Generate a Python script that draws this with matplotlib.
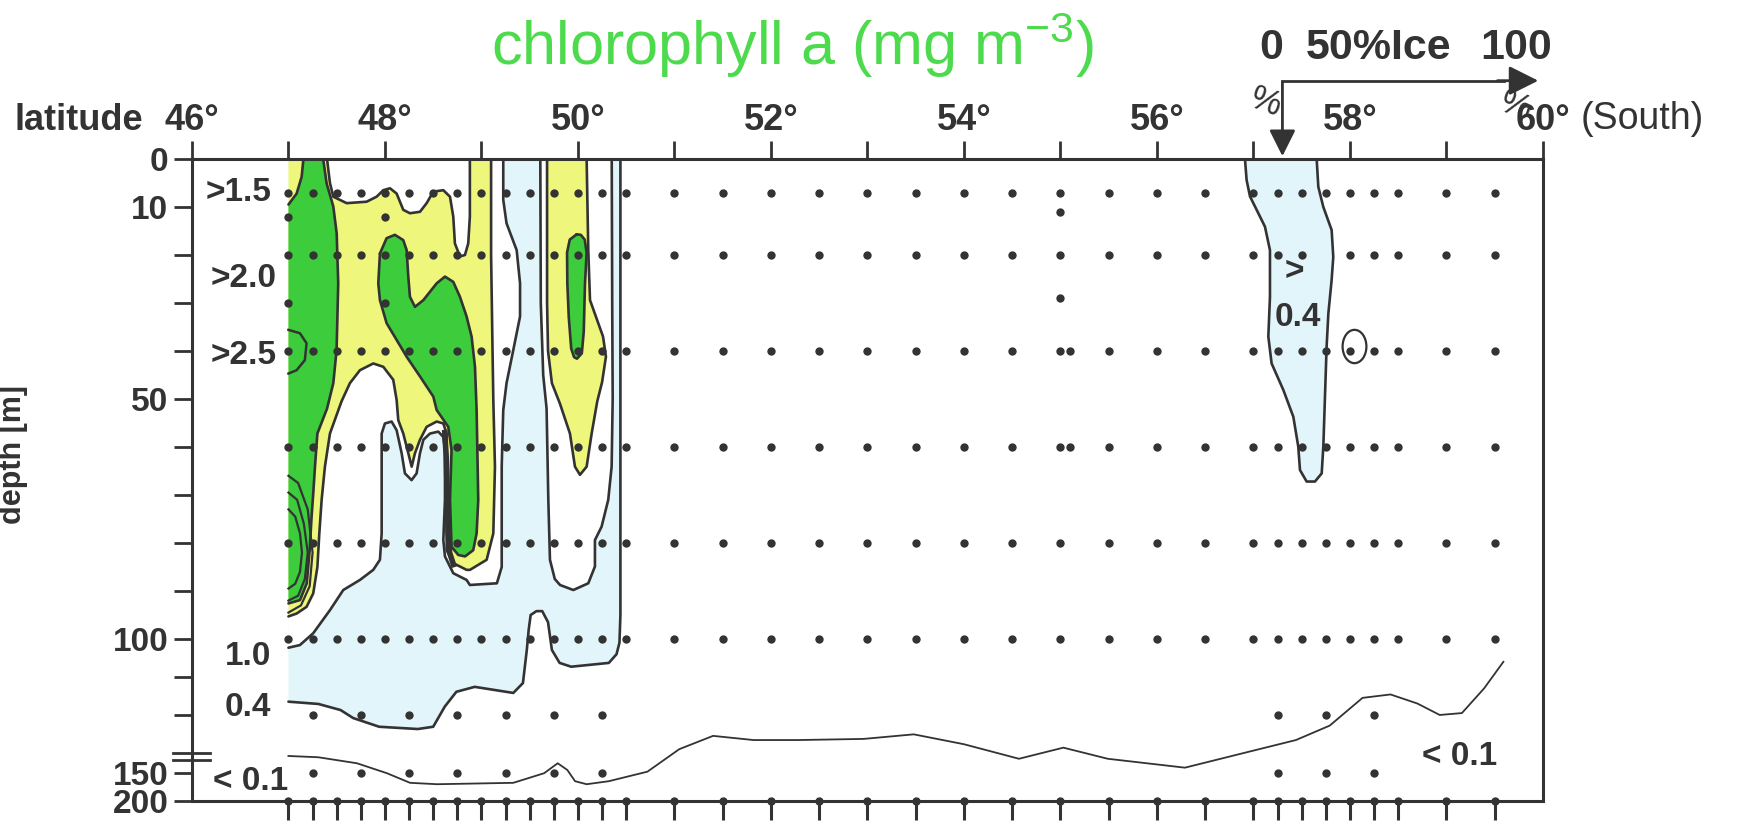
import numpy as np
import matplotlib.pyplot as plt
from matplotlib.path import Path

plt.rcParams['font.family'] = ['Liberation Sans', 'DejaVu Sans']
plt.rcParams['mathtext.default'] = 'regular'

INK = '#333333'
GREEN = '#3ccc3c'
YELLOW = '#eef77c'
BLUE = '#e2f5fa'
TITLE_GREEN = '#4ddb4d'

# ---- station grid (deg South) and sample depths (m)
stations = [47.0, 47.25, 47.5, 47.75, 48.0, 48.25, 48.5, 48.75, 49.0, 49.25, 49.5, 49.75,
            50.0, 50.25, 50.5, 51.0, 51.5, 52.0, 52.5, 53.0, 53.5, 54.0, 54.5, 55.0, 55.5,
            56.0, 56.5, 57.0, 57.25, 57.5, 57.75, 58.0, 58.25, 58.5, 59.0, 59.5]
rows = [7, 20, 40, 60, 80, 100]
skipped = [(57.75, 20)]
deep_stations = [47.25, 47.75, 48.25, 48.75, 49.25, 49.75, 50.25, 57.25, 57.75, 58.25]
deep_rows = [120, 150]
extra_lat = [47.0, 47.0, 48.0, 48.0, 55.0, 55.0, 55.1, 55.1]
extra_dep = [12, 30, 12, 30, 11, 29, 40, 60]

# ---- contours read off the section (lat, depth)
# 0.4 contour (light blue inside)
blue_lat = [47.0, 50.44, 50.44, 50.43, 50.4, 50.32, 49.93, 49.81, 49.73, 49.69, 49.63, 49.57,
            49.51, 49.49, 49.47, 49.43, 49.33, 48.93, 48.74, 48.62, 48.5, 48.34, 47.94, 47.67,
            47.54, 47.31, 47.0]
blue_dep = [0, 0, 95, 101, 104, 106.3, 107.3, 106.3, 102.9, 96.5, 94.2, 94.2, 95, 98, 102.9,
            111.6, 114.2, 112.6, 113.9, 117.8, 123.1, 123.7, 123.1, 120.8, 118.7, 117.1, 116.5]

# 1.0 contours (white inside)
wl_lat = [47.0, 49.226, 49.226, 49.26, 49.365, 49.4, 49.4, 49.33, 49.26, 49.226, 49.21, 49.21,
          49.16, 48.88, 48.846, 48.708, 48.622, 48.605, 48.622, 48.622, 48.605, 48.553, 48.467,
          48.398, 48.363, 48.328, 48.276, 48.207, 48.173, 48.121, 48.069, 48.0, 47.966, 47.966,
          47.966, 47.948, 47.879, 47.741, 47.568, 47.43, 47.257, 47.119, 47.0]
wl_dep = [0, 0, 8.5, 13.4, 19, 25.9, 32.8, 39.8, 46.7, 52.3, 64, 85, 88.4, 88.75, 87.7, 86.3,
          82.8, 79.4, 71, 60.6, 57.9, 56.8, 57.2, 58.5, 61.3, 65.5, 66.9, 65.5, 61.3, 56.5, 54.7,
          55.1, 57.2, 64.1, 78, 83.5, 85.6, 87.7, 89.8, 94, 98.8, 101.6, 102.3]
wr_lat = [49.61, 49.615, 49.64, 49.675, 49.693, 49.71, 49.76, 49.814, 49.952, 50.107, 50.176,
          50.176, 50.245, 50.314, 50.349, 50.36, 50.355, 50.35]
wr_dep = [0, 30, 45, 52, 71, 83.5, 87.5, 88.75, 89.8, 88.4, 84.9, 79.4, 76.6, 71, 64.1, 50, 30, 0]

# 1.5 contours (yellow inside)
yl_lat = [47.0, 47.4, 47.43, 47.465, 47.603, 47.81, 47.914, 47.983, 48.052, 48.121, 48.19,
          48.259, 48.363, 48.432, 48.501, 48.605, 48.674, 48.708, 48.725, 48.777, 48.829, 48.863,
          48.88, 48.88, 49.1, 49.1, 49.115, 49.123, 49.14, 49.123, 49.054, 48.881, 48.846,
          48.708, 48.64, 48.639, 48.605, 48.536, 48.432, 48.363, 48.311, 48.277, 48.242, 48.19,
          48.138, 48.121, 48.086, 47.983, 47.879, 47.741, 47.637, 47.55, 47.43, 47.378, 47.344,
          47.32, 47.3, 47.257, 47.188, 47.085, 47.0]
yl_dep = [0, 0, 5, 7.85, 9.2, 8.9, 7.85, 6.5, 6.1, 7.2, 10.6, 11.3, 11, 9.2, 6.8, 6.5, 7.85, 12,
          17.6, 20.3, 20, 17.6, 12, 0, 0, 20, 40, 50.2, 64.1, 78, 83.5, 85.6, 85.6, 84.2, 81.5,
          57.2, 55.1, 54.7, 55.8, 58.5, 61.3, 64.1, 61.3, 57.2, 54.4, 50.2, 46, 43.3, 42.6, 44,
          46.7, 50.5, 57.2, 64.1, 71, 78, 85, 90.5, 93.3, 94.7, 95.3]
yt_lat = [49.68, 49.68, 49.69, 49.73, 49.814, 49.917, 49.969, 50.021, 50.09, 50.142, 50.2,
          50.25, 50.29, 50.26, 50.125, 50.107, 50.09]
yt_dep = [0, 30, 40, 46.7, 51, 57.2, 64.1, 65.8, 64.1, 57.2, 50.5, 46.5, 41.2, 37, 29.4, 19, 0]

# 2.0 contours (green inside)
gl_lat = [47.0, 47.085, 47.137, 47.155, 47.36, 47.396, 47.465, 47.5, 47.516, 47.499, 47.465,
          47.4, 47.3, 47.275, 47.257, 47.24, 47.22, 47.19, 47.12, 47.0]
gl_dep = [9.5, 7.2, 3.7, 0, 0, 5.1, 9.9, 15.5, 25.9, 39.8, 46.7, 52, 57.2, 64.1, 69.7, 74.5,
          81.5, 88.4, 91.9, 92.6]
gm_lat = [47.948, 48.017, 48.103, 48.19, 48.225, 48.242, 48.259, 48.311, 48.398, 48.536, 48.622,
          48.708, 48.777, 48.846, 48.898, 48.933, 48.95, 48.967, 48.95, 48.915, 48.83, 48.76,
          48.69, 48.674, 48.69, 48.656, 48.536, 48.501, 48.363, 48.225, 48.121, 48.017, 47.948,
          47.931]
gm_dep = [19.7, 16.5, 15.8, 16.9, 19, 24.5, 28.7, 30.8, 29.4, 25.9, 24.5, 25.6, 28.7, 32.8, 37,
          43.3, 52.3, 71, 78, 81.5, 82.8, 82.5, 80.8, 71, 60.6, 55.8, 52.3, 49.5, 45.3, 41.2,
          37.7, 34.2, 29.4, 25.9]
gr_lat = [49.986, 50.03, 50.07, 50.09, 50.073, 50.06, 50.04, 49.99, 49.96, 49.93, 49.905, 49.89,
          49.887, 49.915]
gr_dep = [15.7, 15.8, 16.8, 19.5, 26, 36, 40.5, 41.6, 41.3, 39.5, 33, 26, 19.5, 16.8]

# 2.5 contour and crowded contours near 47.1 S and 48.65 S
c25_lat = [47.0, 47.119, 47.188, 47.17, 47.085, 47.0]
c25_dep = [35.6, 36.3, 38.4, 41.9, 44.0, 44.7]
arcs_lat = [[47.0, 47.1, 47.2, 47.25, 47.22, 47.13, 47.0],
            [47.0, 47.09, 47.16, 47.2, 47.17, 47.1, 47.0],
            [47.0, 47.07, 47.12, 47.14, 47.12, 47.07, 47.0]]
arcs_dep = [[66, 67.5, 73, 82, 89, 93, 94.5],
            [69.5, 71, 76, 82, 87.5, 91, 92],
            [73, 74.5, 78, 82, 86, 88.5, 89.5]]
band_lat = [48.62, 48.635, 48.645, 48.655, 48.67, 48.71]
band_dep = [57, 62, 70, 78, 82, 84.5]

# 0.4 patch under the ice edge
ice_lat = [56.912, 56.929, 56.964, 57.033, 57.119, 57.171, 57.171, 57.154, 57.188, 57.309,
           57.413, 57.464, 57.482, 57.551, 57.637, 57.707, 57.724, 57.741, 57.758, 57.776,
           57.81, 57.827, 57.81, 57.724, 57.672, 57.655]
ice_dep = [0, 4.4, 7.8, 10.6, 14.1, 19, 28.7, 37, 42.6, 48.1, 53.7, 59.9, 64.8, 67.2, 67.2,
           65.5, 59.9, 49.5, 39.1, 32.2, 25.2, 20.4, 14.8, 10, 5.8, 0]

# 0.1 contour
low_lat = [47.0, 47.31, 47.71, 48.02, 48.26, 48.54, 49.33, 49.65, 49.79, 49.89, 49.97, 50.09,
           50.32, 50.72, 51.05, 51.4, 51.82, 52.28, 52.96, 53.48, 54.0, 54.57, 55.03, 55.49,
           56.29, 56.98, 57.44, 57.79, 58.13, 58.42, 58.7, 58.93, 59.16, 59.39, 59.59]
low_dep = [133, 134.3, 140.3, 150.4, 167.6, 170.1, 167.6, 150.4, 140.3, 147, 164.7, 170.1,
           164.7, 148.7, 129, 125.5, 126.6, 126.6, 126.3, 125.1, 127.7, 135.8, 128.6, 135.8,
           144.7, 129.5, 126.6, 122.8, 115.5, 114.6, 117, 120, 119.5, 113, 106]

# ---- figure
fig = plt.figure(figsize=(17.37, 8.32), dpi=100)
ax = fig.add_axes([0.1105, 0.0373, 0.7778, 0.7716])

# broken depth axis: 0-100 m stretched, 150-200 m squeezed
d_knots = [-200, 0, 100, 130, 150, 200, 400]
p_knots = [-960, 0, 480, 594, 614, 642, 778]
ax.set_yscale('function', functions=(lambda d: np.interp(d, d_knots, p_knots),
                                     lambda p: np.interp(p, p_knots, d_knots)))
ax.set_xlim(46, 60)
ax.set_ylim(200, 0)


def shade(lat, dep, color, z, closed=False):
    ax.fill(lat, dep, color=color, lw=0, zorder=z)
    if closed:
        lat = lat + lat[:1]
        dep = dep + dep[:1]
    ax.plot(lat, dep, color=INK, lw=1.9, zorder=z + 0.5, solid_joinstyle='round',
            solid_capstyle='round')


shade(blue_lat, blue_dep, BLUE, 1)
shade(ice_lat, ice_dep, BLUE, 1)
shade(wl_lat, wl_dep, 'white', 2)
shade(wr_lat, wr_dep, 'white', 2)
shade(yl_lat, yl_dep, YELLOW, 3)
shade(yt_lat, yt_dep, YELLOW, 3)
shade(gl_lat, gl_dep, GREEN, 4)
shade(gm_lat, gm_dep, GREEN, 4, closed=True)
shade(gr_lat, gr_dep, GREEN, 4, closed=True)
ax.plot(c25_lat, c25_dep, color=INK, lw=1.8, zorder=5)
for a_lat, a_dep in zip(arcs_lat, arcs_dep):
    ax.plot(a_lat, a_dep, color=INK, lw=1.6, zorder=5)
ax.plot(band_lat, band_dep, color=INK, lw=4, zorder=5)
ax.plot(low_lat, low_dep, color=INK, lw=1.3, zorder=5, solid_joinstyle='round')

# sample dots
dot_lat, dot_dep = [], []
for d in rows:
    for s in stations:
        if (s, d) not in skipped:
            dot_lat.append(s)
            dot_dep.append(d)
for d in deep_rows:
    for s in deep_stations:
        dot_lat.append(s)
        dot_dep.append(d)
ax.plot(dot_lat + extra_lat, dot_dep + extra_dep, 'o', ms=6, color=INK, mew=0, zorder=6)
ax.plot(stations, [200] * len(stations), 'o', ms=6, color=INK, mew=0, zorder=11, clip_on=False)

circ = Path.unit_circle()
oval = Path(circ.vertices * [1, 1.4], circ.codes)
ax.plot([58.04], [39], marker=oval, ms=24, mfc='none', mec=INK, mew=1.6, zorder=6)

# ---- axes styling
for sp in ax.spines.values():
    sp.set_linewidth(2.2)
    sp.set_color(INK)
    sp.set_zorder(10)

deg = list(range(46, 61))
ax.set_xticks(deg)
ax.set_xticklabels([f'{d}°' if d % 2 == 0 else '' for d in deg], fontsize=26,
                   fontweight='bold', color=INK)
ax.set_xticks(stations, minor=True)
ax.xaxis.remove_overlapping_locs = False
ax.tick_params(axis='x', which='major', top=True, bottom=False, labeltop=True,
               labelbottom=False, direction='out', length=13, width=2, color=INK, pad=2)
ax.tick_params(axis='x', which='minor', top=False, bottom=True, direction='out',
               length=14, width=2.2, color=INK)

ytk = list(range(0, 130, 10)) + [150, 200]
ax.set_yticks(ytk)
ax.set_yticklabels([str(v) if v in (0, 10, 50, 100, 150, 200) else '' for v in ytk],
                   fontsize=24, fontweight='bold', color=INK)
ax.tick_params(axis='y', which='major', direction='out', length=13, width=2, color=INK, pad=4)
ax.tick_params(axis='y', which='minor', left=False)

ax.set_ylabel('depth [m]', fontsize=22, fontweight='bold', color=INK)
ax.yaxis.set_label_coords(-0.121, 0.54)

# axis break marks
yt = ax.get_yaxis_transform()
for d in (130, 137):
    ax.plot([-0.014, 0.013], [d, d], transform=yt, color=INK, lw=2, clip_on=False, zorder=11)

ax.text(-0.084, 1.06, 'latitude', transform=ax.transAxes, ha='center', va='center',
        fontsize=26, fontweight='bold', color=INK)
ax.text(1.028, 1.063, '(South)', transform=ax.transAxes, ha='left', va='center',
        fontsize=27, color=INK)

# level labels
lab = dict(fontsize=24, fontweight='bold', color=INK, zorder=12)
ax.text(46.82, 7, '>1.5', ha='right', va='center', **lab)
ax.text(46.88, 25, '>2.0', ha='right', va='center', **lab)
ax.text(46.88, 41, '>2.5', ha='right', va='center', **lab)
ax.text(46.82, 104.5, '1.0', ha='right', va='center', **lab)
ax.text(46.82, 118, '0.4', ha='right', va='center', **lab)
ax.text(47.0, 165, '< 0.1', ha='right', va='center', **lab)
ax.text(59.14, 134, '< 0.1', ha='center', va='center', **lab)
ax.text(57.42, 23.5, '>', ha='center', va='center', **lab)
ax.text(57.46, 33, '0.4', ha='center', va='center', **lab)

# ice cover arrow
xt = ax.get_xaxis_transform()
ax.plot([57.3, 59.6], [1.122, 1.122], transform=xt, color=INK, lw=2, clip_on=False)
ax.annotate('', xy=(59.98, 1.122), xytext=(59.5, 1.122), xycoords=xt, textcoords=xt,
            arrowprops=dict(arrowstyle='-|>', mutation_scale=45, color=INK, lw=2))
ax.annotate('', xy=(57.3, 1.0), xytext=(57.3, 1.124), xycoords=xt, textcoords=xt,
            arrowprops=dict(arrowstyle='-|>', mutation_scale=40, color=INK, lw=2))
ice = dict(fontsize=31, fontweight='bold', color=INK, transform=xt, ha='center', va='center')
ax.text(57.18, 1.173, '0', **ice)
ax.text(58.3, 1.173, '50%Ice', **ice)
ax.text(59.72, 1.173, '100', **ice)
ax.text(57.12, 1.088, '%', fontsize=25, color=INK, transform=xt, ha='center', va='center',
        rotation=-20)
ax.text(59.72, 1.082, '%', fontsize=25, color=INK, transform=xt, ha='center', va='center',
        rotation=-20)

fig.text(792 / 1737, 1 - 45 / 832, 'chlorophyll a (mg m$^{-3}$)', ha='center', va='center',
         fontsize=44, color=TITLE_GREEN)

fig.savefig('out.png', dpi=100)
